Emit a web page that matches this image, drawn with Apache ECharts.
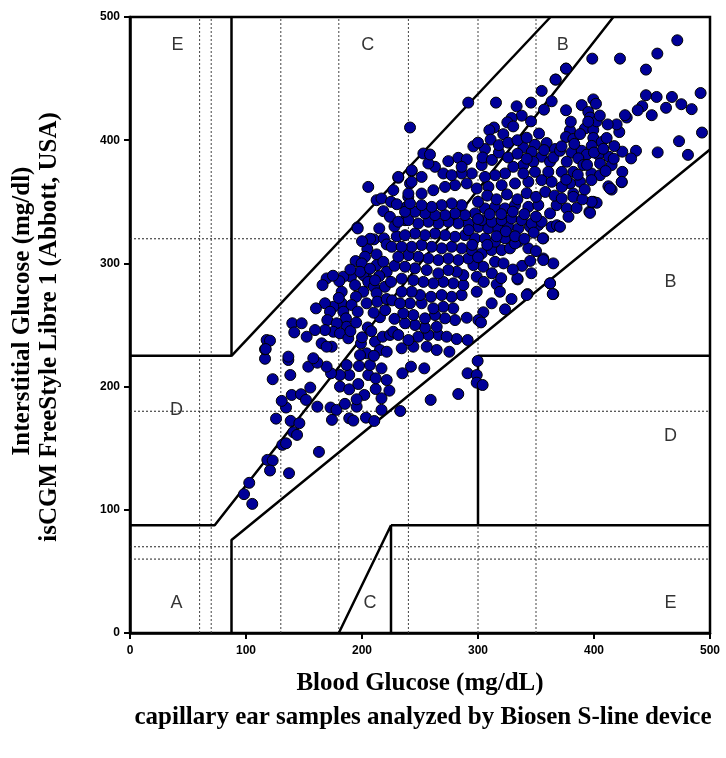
<!DOCTYPE html>
<html><head><meta charset="utf-8">
<script src="https://cdn.jsdelivr.net/npm/echarts@6/dist/echarts.min.js"></script>
<style>html,body{margin:0;padding:0;background:#fff}#c{width:726px;height:758px}</style>
</head><body><div id="c"></div><script>
// ---- Data (mg/dL) ----
const axisTicks = [0, 100, 200, 300, 400, 500];
const xDotted = [60, 70, 130, 180, 240, 300, 350];
const yDotted = [60, 70, 180, 320];

// Error-grid zone boundaries (data coordinates)
const zoneLines = [
  [[0,225],[87.5,225],[87.5,500]],
  [[87.5,225],[362.5,500]],
  [[0,87.5],[73,87.5],[416.7,500]],
  [[87.5,0],[87.5,75.5],[500,392.5]],
  [[180,0],[225,87.5],[225,0]],
  [[225,87.5],[500,87.5]],
  [[300,87.5],[300,225],[500,225]]
];
const zoneLabels = [
  ['E',41,477],['C',205,477],['B',373,477],['B',466,285],
  ['D',40,181],['D',466,160],['A',40,24],['C',207,24],['E',466,24]
];

// Scatter points [blood glucose, interstitial glucose]
const pointsTail = [
  [98.3,112.7],[102.8,121.9],[105.4,104.8],[118.4,140.5],[123,140],[120.7,131.9],[137.1,129.7],
  [131.3,152.7],[134.5,154],[162.9,147],[140.8,163],[144,160.8],[125.9,174],[138.5,172.2],
  [146,170.3],[134.5,183],[130.8,188.4],[139.4,193.2],[147.4,193.8],[151.7,189.2],[155.4,199.2],
  [153.7,216.2],[138.2,209.4],[123,206],[116.4,222.6],[116.4,230.3],[117.8,237.8],[136.5,221.6]
];
const pointsLowBand = [
  [161.5,183.7],[172.9,183],[178,181.1],[185.3,186],[195.4,183.7],[174.1,173],[189,174.3],
  [192.5,172.4],[203.4,174.8],[210.6,172.1],[216.8,181.1],[202,193.2],[195.4,189.7],[216.8,190.5],
  [223.6,196.7],[211.8,198],[181,200],[189,197.8],[196.8,202.1],[205.4,209.4],[211.8,206.7],
  [221.3,205.3],[197.4,216.7],[189,209.4],[181,209.4],[173.3,210.8],[169.5,216.2],[161.5,219.4],
  [186.8,217.5],[206.9,217.5],[216.8,214.8],[234.8,210.8],[242.2,216.2],[253.7,214.8],
  [259.2,189.2],[233,180.2],[283,194],[291,210.8],[298.9,209.4],[299.7,220.8],[298.9,203.2],[304,201.3]
];
const pointsLeftCore = [
  [212.6,351.3],[218.4,342.4],[224.1,337.8],[196,329.2],[214.9,328.4],[210.3,319.5],[218.9,320.3],
  [221.3,315.4],[225.6,313.5],[204.6,311.6],[202.6,305.4],[212.6,307.3],[194.5,301.9],[199.7,300],
  [212.6,298.6],[218.4,301.3],[221.3,293.2],[214.9,289.7],[204,288.3],[201.1,290.5],[190.5,289.2],
  [183.9,289.2],[169.5,287.8],[166,282.4],[180.4,285.6],[182.5,277],[194,282.4],[205.4,285],
  [210.3,281],[219.8,281],[212.6,275.7],[201.1,277],[194.8,272.9],[204,267.6],[213.2,268.9],
  [221.3,271.1],[182.5,267.6],[191,266.2],[175.3,264.8],[168.1,267.6],[160.3,263.5],[172.4,260.8],
  [183.9,260.8],[196.3,260.8],[170.1,254],[186.2,255.4],[186.8,248.6],[178.2,251.4],[175.3,244.5],
  [168.1,245.9],[159.5,245.9],[152.3,240.5],[139.9,251.4],[148,251.4],[141.6,244],[181,243.2],
  [199.1,235.1],[188.2,239.2],[165.2,235.1],[173.9,232.4],[120.7,237.3],[117,230.5],[136.5,224.3],
  [158,223],[169.5,232.4],[211.2,236.5],[217.8,240.5],[224.1,241.9],[215.5,229.7],[204,227],
  [210.3,225],[221.3,228.3],[198.3,225.6],[215.5,256.3],[227,244.5],[198.3,293.2],[206.9,295.7],
  [211.2,286.3],[205.4,362.1],[231.3,369.5],[242.8,374.9],[227,359.4],[216.8,352.7],[196.3,328.4],
  [241.4,364.9],[239.9,354],[238.5,345.9],[237.1,335.1],[241.4,410.3],
  [190,245],[195,252],[205,248],[210,260],[220,262],[228,255],[226,270],[225,285],[228,298],
  [230,322],[228,330],[208,245],[200,240],[180,272],[175,290],[190,295],[207,320],[200,318],
  [225,350],[230,348]
];
const pointsCore = [
  [356.3,320.3],[356.3,304],[334.2,287],[342.7,275.1],[362.1,283.8],[364.9,275.1],[316.1,283],
  [318.9,277],[328.9,271.1],[323.3,262.7],[311.8,267.6],[304.6,260.3],[298.9,277],[300.3,254],
  [302.6,252.1],[290.3,255.9],[291.1,237.8],[281.6,238.6],[275.3,228.3],[264.4,229.7],[255.8,232.4],
  [244.3,232.4],[234.2,231.1],[265.8,241.9],[257.2,241.9],[248.5,240.5],[240,237.8],[231.3,241.9],
  [273,240.5],[264.4,248.6],[254.3,247.8],[245.7,250],[237.1,251.4],[280.2,254],[271.6,255.4],
  [262.9,258.1],[254.3,255.4],[244.3,258.1],[235.6,259.5],[278.7,263.5],[270.1,264.8],[261.5,263.5],
  [251.4,267.6],[241.4,267.6],[232.8,267.6],[285.9,274.3],[287.4,282.4],[277.3,272.9],[268.7,274.3],
  [259.5,272.9],[250,274.3],[242.8,277],[234.2,277],[298.9,289.2],[304.6,297.3],[314.7,301.3],
  [296,298.6],[287.4,290.5],[278.7,283.8],[270.1,285],[261.5,283.8],[252.9,285],[244.3,286.3],
  [234.2,287.6],[281.6,293.2],[274.4,294.6],[265.8,291.9],[255.8,294.6],[245.7,296],[237.1,297.3],
  [291.6,304],[283,302.7],[274.4,304],[265.8,302.7],[257.2,304],[248.5,305.4],[240,306.7],
  [231.3,305.4],[303.2,308.1],[311.8,310.8],[320.4,310.8],[327.6,312.2],[334.8,317.6],[343.4,312.2],
  [294.6,310.8],[285.9,312.2],[277.3,313.5],[268.7,312.2],[260.1,313.5],[251.4,314.9],[242.8,313.5],
  [234.2,313.5],[297.4,320.3],[306,320.3],[314.7,317.6],[323.3,320.3],[331.9,316.2],[288.8,322.9],
  [280.2,321.6],[271.6,322.9],[262.9,324.3],[254.3,322.9],[245.7,324.3],[237.1,322.9],[300.3,329.7],
  [308.9,328.4],[317.5,328.4],[326.1,329.7],[334.8,328.4],[344.8,329.7],[352,331.1],[363.5,329.7],
  [291.6,332.4],[283,332.4],[274.4,333.8],[265.8,332.4],[257.2,333.8],[248.5,332.4],[240,335.1],
  [231.3,333.8],[303.2,335.1],[311.8,333.8],[320.4,335.1],[329,336.5],[337.7,335.1],[346.3,332.4],
  [354.9,333.8],[362.1,340.6],[297.4,340.6],[288.8,339.2],[280.2,340.6],[271.6,339.2],[262.9,339.2],
  [254.3,340.6],[245.7,341.9],[237.1,341.9],[306,344.6],[314.7,345.9],[323.3,344.6],[331.9,347.3],
  [343.4,345.9],[352,347.3],[285.9,347.3],[277.3,348.7],[268.7,347.3],[260.1,345.9],[251.4,347.3],
  [241.4,348.7],[367.8,347.3],[368,331],[364.9,300],[356.3,302.7],[355.8,320.3],[362.1,283.8],
  [364.4,275.1],[333.9,287.8],[342,274.3],
  [295,315],[300,305],[308,315],[316,322],[324,326],[332,322],[340,320],[348,325],[292,327],
  [300,336],[310,340],[320,340],[330,342],[340,340],[350,338],[338,298],[346,292],[330,295],
  [322,300],[312,292],[305,285],[320,288],[350,310],[345,302]
];
const pointsUpperCore = [
  [291.6,430.5],[315.5,430.5],[333.3,427.5],[345.7,430.5],[354.9,440],[366.9,449.2],[356.9,424.8],
  [363.5,431.6],[337.7,419.9],[329,418],[325.3,414.5],[345.7,415.3],[330.4,411.2],[313.8,410.3],
  [309.8,408.1],[321.8,404.9],[310.9,400.5],[352.6,405.4],[306,392.8],[339.1,394.1],[349.1,396.3],
  [359.2,397.7],[366.4,392.8],[346.3,390.4],[354.9,386.6],[362.1,382.5],[347.7,382.5],[339.1,379.8],
  [330.4,378.4],[323.3,373],[314.7,371.6],[306,370.2],[298.9,360.8],[309,362.1],[320.4,363.5],
  [331.9,364.9],[343.4,366.2],[354.9,367.6],[363.5,366.2],[339.1,373],[349.1,374.3],[360.6,374.3],
  [303.2,379.8],[294.6,373],[285.9,373],[290.3,364.9],[280.2,363.5],[271.6,362.1],[261.5,359.4],
  [251.4,356.7],[240,356.7],[274.4,383],[283,385.7],[290.3,384.4],[285.9,378.4],[270.1,373],
  [277.3,371.6],[262.9,378.4],[257.2,381.1],[252.9,389.2],[258.6,388.4],[251.4,370.2],[242.8,366.2],
  [231.3,370.2],[242.8,375.6],[366.9,449.2],[375.9,458.1],
  [300,350],[308,355],[316,352],[325,356],[334,352],[342,357],[350,354],[358,358],[366,355],
  [304,386],[312,384],[318,390],[326,386],[334,389],[342,385],[357,392],[365,386],
  [296,395],[300,398],[318,396],[326,398],[334,400],[342,402]
];
const pointsRight = [
  [471.8,481.1],[454.6,470.3],[444.8,457.3],[398.5,466.2],[422.4,466.2],[375.9,458.1],[491.9,438.3],
  [444.8,436.5],[454,435.1],[467.2,435.1],[475.3,429.2],[484.2,425.2],[462.1,426.3],[449.8,420.3],
  [441.6,427.6],[437.7,424.3],[428.2,418.4],[426.7,420.3],[493.1,406.2],[473.3,399.2],[481,388.1],
  [454.9,390.1],[436.2,391.4],[432,385.2],[424.4,390.7],[424.4,374.3],[423.9,365.9],[412.4,362.6],
  [415.2,359.9],[421.8,406.6],[419.5,412.8],[411.8,412.8],[399.4,433.1],[401.7,429.6],[389.4,428.5],
  [395.1,422.9],[396.6,418.4],[375.9,424.3],[379.3,408.1],[392.2,409.5],[399.4,408.4],[402.3,415.3],
  [375.9,402.6],[382.2,401],[399.4,401.8],[406.6,398.5],[410.9,401.8],[417.5,395.2],[370.7,391.4],
  [380.7,390],[389.4,391.4],[398,395.4],[403.7,388.3],[412.9,386.6],[393.7,388.3],[386.5,385.3],
  [376.5,382.5],[390.8,379.8],[405.2,381.1],[415.2,379.8],[372.2,374.3],[382.2,374.3],[397.8,373],
  [405.2,371.6],[387.9,366.2],[397.8,367.6],[379.3,364.9],[382.2,356.7],[372.2,362.1],
  [399.4,350],[396,341.9],[372.2,352.7],[376.5,344.6],[378,337.8],[370.7,329.7],[382.2,354],
  [402.3,349.2],[398,350],[396.6,341],[413.8,360.8],[423.9,366.2],
  [385,345],[390,352],[392,360],[386,372],[394,380],[400,390],[408,393],[383,397],[388,405],
  [395,415],[405,420],[380,415],[372,395],[376,368],[410,375],[417,385]
];

const pointGroups = [pointsTail, pointsLowBand, pointsLeftCore, pointsCore, pointsUpperCore, pointsRight];

// ---- Chart ----
const chart = echarts.init(document.getElementById('c'));
const lineSeries = [];
xDotted.forEach(v => lineSeries.push({
  type: 'line', data: [[v, 0], [v, 500]], symbol: 'none', silent: true, animation: false,
  lineStyle: { color: '#444', width: 1, type: [2, 2] }, z: 1
}));
yDotted.forEach(v => lineSeries.push({
  type: 'line', data: [[0, v], [500, v]], symbol: 'none', silent: true, animation: false,
  lineStyle: { color: '#222', width: 1, type: [2, 2] }, z: 1
}));
zoneLines.forEach(seg => lineSeries.push({
  type: 'line', data: seg, symbol: 'none', silent: true, animation: false,
  lineStyle: { color: '#000', width: 2.5 }, z: 3
}));

const axisCommon = {
  type: 'value', min: 0, max: 500, interval: 100,
  axisLine: { show: true, onZero: false, lineStyle: { color: '#000', width: 2.5 } },
  axisTick: { show: true, length: 6, lineStyle: { color: '#000', width: 2 } },
  axisLabel: { color: '#000', fontFamily: 'Liberation Sans, Arial', fontWeight: 'bold', fontSize: 12 },
  splitLine: { show: false }
};
const titleFont = 'bold 25px "Liberation Serif", "Times New Roman", serif';

chart.setOption({
  animation: false,
  backgroundColor: '#fff',
  grid: { left: 130, right: 16, top: 17, bottom: 125, show: true, borderColor: '#000', borderWidth: 2.5, backgroundColor: 'transparent' },
  xAxis: Object.assign({}, axisCommon, { axisLabel: Object.assign({}, axisCommon.axisLabel, { margin: 12 }) }),
  yAxis: Object.assign({}, axisCommon, { axisLabel: Object.assign({}, axisCommon.axisLabel, { margin: 10 }) }),
  series: lineSeries.concat(
    pointGroups.map(g => ({
      type: 'scatter', data: g, symbolSize: 11, z: 5, animation: false,
      itemStyle: { color: '#000099', borderColor: '#000', borderWidth: 1, opacity: 1 }
    })),
    [{
      type: 'scatter', symbolSize: 0, z: 6, silent: true,
      data: zoneLabels.map(l => ({ name: l[0], value: [l[1], l[2]] })),
      label: { show: true, position: 'inside', formatter: p => p.name, color: '#000', fontSize: 18, fontFamily: 'Liberation Sans, Arial' }
    }]
  ),
  graphic: [
    { type: 'text', x: 420, y: 684, style: { text: 'Blood Glucose (mg/dL)', font: titleFont, fill: '#000', textAlign: 'center', textVerticalAlign: 'middle' } },
    { type: 'text', x: 423, y: 718, style: { text: 'capillary ear samples analyzed by Biosen S-line device', font: titleFont, fill: '#000', textAlign: 'center', textVerticalAlign: 'middle' } },
    { type: 'text', x: 23, y: 311, rotation: Math.PI / 2, style: { text: 'Interstitial Glucose (mg/dl)', font: titleFont, fill: '#000', textAlign: 'center', textVerticalAlign: 'middle' } },
    { type: 'text', x: 50, y: 327, rotation: Math.PI / 2, style: { text: 'isCGM FreeStyle Libre 1 (Abbott, USA)', font: titleFont, fill: '#000', textAlign: 'center', textVerticalAlign: 'middle' } }
  ]
});
</script></body></html>
